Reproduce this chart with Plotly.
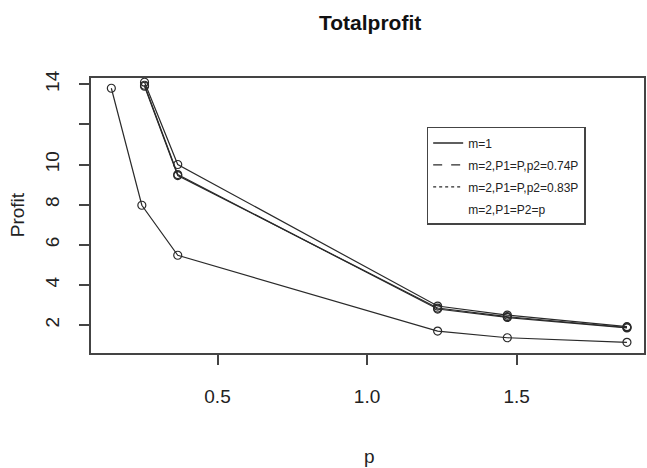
import plotly.graph_objects as go

# Data
p_upper = [0.256, 0.367, 1.236, 1.469, 1.869]
profit_m1 = [14.1, 10.0, 2.95, 2.50, 1.92]
profit_074 = [13.9, 9.45, 2.85, 2.42, 1.88]
profit_083 = [13.95, 9.50, 2.80, 2.38, 1.86]

p_lower = [0.145, 0.247, 0.367, 1.236, 1.469, 1.869]
profit_equal = [13.8, 7.97, 5.48, 1.70, 1.37, 1.14]

series_names = ["m=1", "m=2,P1=P,p2=0.74P", "m=2,P1=P,p2=0.83P", "m=2,P1=P2=p"]
legend_dash = ["solid", "dash", "dot", "solid"]
legend_width = [1.5, 1.2, 1.2, 0]

y_tickvals = [2, 4, 6, 8, 10, 12, 14]
y_ticktext = ["2", "4", "6", "8", "10", "", "14"]
x_tickvals = [0.5, 1.0, 1.5]
x_ticktext = ["0.5", "1.0", "1.5"]

LINE = "#2a2a2a"
FONT = "Liberation Sans, Arial, sans-serif"

fig = go.Figure()

marker = dict(symbol="circle-open", size=8, color=LINE, line=dict(width=1.2, color=LINE))
for xs, ys in [(p_upper, profit_m1), (p_upper, profit_074), (p_upper, profit_083), (p_lower, profit_equal)]:
    fig.add_trace(go.Scatter(x=xs, y=ys, mode="lines+markers",
                             line=dict(color=LINE, width=1.2),
                             marker=marker, showlegend=False, hoverinfo="skip"))

for i, (name, dash, w) in enumerate(zip(series_names, legend_dash, legend_width)):
    fig.add_trace(go.Scatter(x=[None], y=[None], mode="lines", name=name, legendgroup=f"g{i}",
                             line=dict(color=LINE if w > 0 else "rgba(0,0,0,0)", width=max(w, 0.01), dash=dash),
                             showlegend=True))

fig.update_layout(
    width=647, height=468,
    margin=dict(l=91, r=1, t=78, b=115),
    paper_bgcolor="white", plot_bgcolor="white",
    font=dict(family=FONT, color="#222", size=19),
    showlegend=True,
    legend=dict(x=0.607, y=0.822, xanchor="left", yanchor="top",
                bordercolor="#444", borderwidth=1.5, bgcolor="white",
                font=dict(size=12, family=FONT, color="#222"),
                tracegroupgap=3, itemwidth=30),
    annotations=[
        dict(text="<b>Totalprofit</b>", x=0.5045, y=1.2036, xref="paper", yref="paper",
             xanchor="center", yanchor="middle", showarrow=False, font=dict(size=21, family=FONT, color="#111")),
        dict(text="Profit", x=-0.1333, y=0.5018, xref="paper", yref="paper", textangle=-90,
             xanchor="center", yanchor="middle", showarrow=False, font=dict(size=19, family=FONT, color="#222")),
        dict(text="p", x=0.5045, y=-0.375, xref="paper", yref="paper",
             xanchor="center", yanchor="middle", showarrow=False, font=dict(size=19, family=FONT, color="#222")),
    ],
)

fig.update_xaxes(range=[0.077, 1.926], tickvals=x_tickvals, ticktext=x_ticktext,
                 showgrid=False, zeroline=False, showline=True, mirror=True,
                 linecolor="#444", linewidth=1.5, ticks="outside", ticklen=10,
                 tickcolor="#444", tickwidth=1.5, ticklabelstandoff=15)
fig.update_yaxes(range=[0.61, 14.31], tickvals=y_tickvals, ticktext=y_ticktext,
                 showgrid=False, zeroline=False, showline=True, mirror=True,
                 linecolor="#444", linewidth=1.5, ticks="outside", ticklen=10,
                 tickcolor="#444", tickwidth=1.5, tickangle=-90, ticklabelstandoff=13)

fig.write_html("out.html", config={"displayModeBar": False},
               post_script="document.body.style.margin='0';document.body.style.overflow='hidden';")
